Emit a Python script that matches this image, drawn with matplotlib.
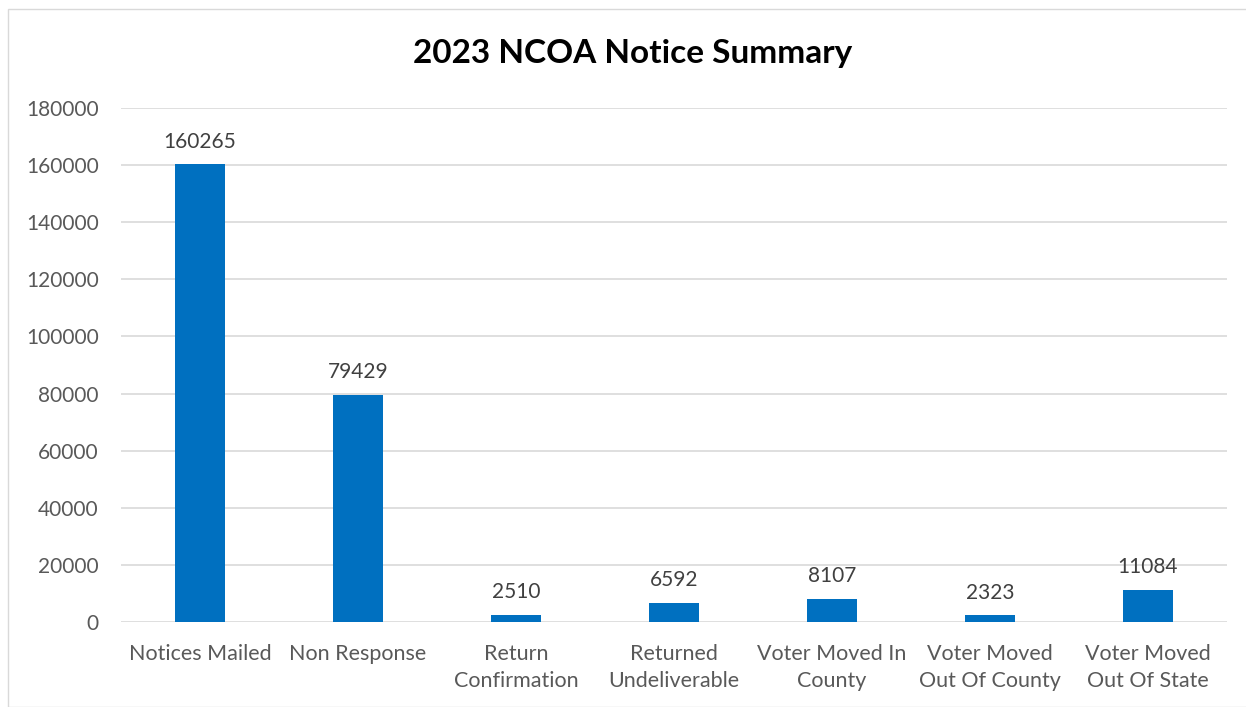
import matplotlib.pyplot as plt
from matplotlib.patches import Rectangle

categories = ["Notices Mailed", "Non Response", "Return\nConfirmation", "Returned\nUndeliverable",
              "Voter Moved In\nCounty", "Voter Moved\nOut Of County", "Voter Moved\nOut Of State"]
values = [160265, 79429, 2510, 6592, 8107, 2323, 11084]
yticks = [0, 20000, 40000, 60000, 80000, 100000, 120000, 140000, 160000, 180000]

plt.rcParams['font.family'] = ['Lato', 'DejaVu Sans']
text_color = "#595959"

fig = plt.figure(figsize=(12.46, 7.07), dpi=100)
fig.patches.append(Rectangle((8 / 1246, 0), 1.2, 1 - 9 / 707, transform=fig.transFigure,
                             fill=False, edgecolor="#D9D9D9", linewidth=1))
ax = fig.add_axes([121 / 1246, 1 - 622 / 707, 1106 / 1246, 514 / 707])

x = range(len(categories))
bars = ax.bar(x, values, width=0.315, color="#0070C0", zorder=3)
for b, v in zip(bars, values):
    ax.text(b.get_x() + b.get_width() / 2, v + 4500, str(v), ha="center", va="bottom",
            fontsize=15, color="#404040")

ax.set_xlim(-0.5, len(categories) - 0.5)
ax.set_ylim(0, 180000)
ax.set_yticks(yticks)
ax.set_yticklabels([str(t) for t in yticks], fontsize=15)
ax.set_xticks(list(x))
ax.set_xticklabels(categories, fontsize=15.5, linespacing=1.45)
ax.tick_params(axis="both", length=0, labelcolor=text_color)
ax.tick_params(axis="y", pad=16)
ax.tick_params(axis="x", pad=16)
ax.grid(axis="y", color="#D9D9D9", linewidth=1.2, zorder=0)
for s in ax.spines.values():
    s.set_visible(False)

fig.text(633 / 1246, 1 - 53 / 707, "2023 NCOA Notice Summary", ha="center", va="center",
         fontsize=24, fontweight="bold", color="black")

fig.savefig("out.png", dpi=100)
